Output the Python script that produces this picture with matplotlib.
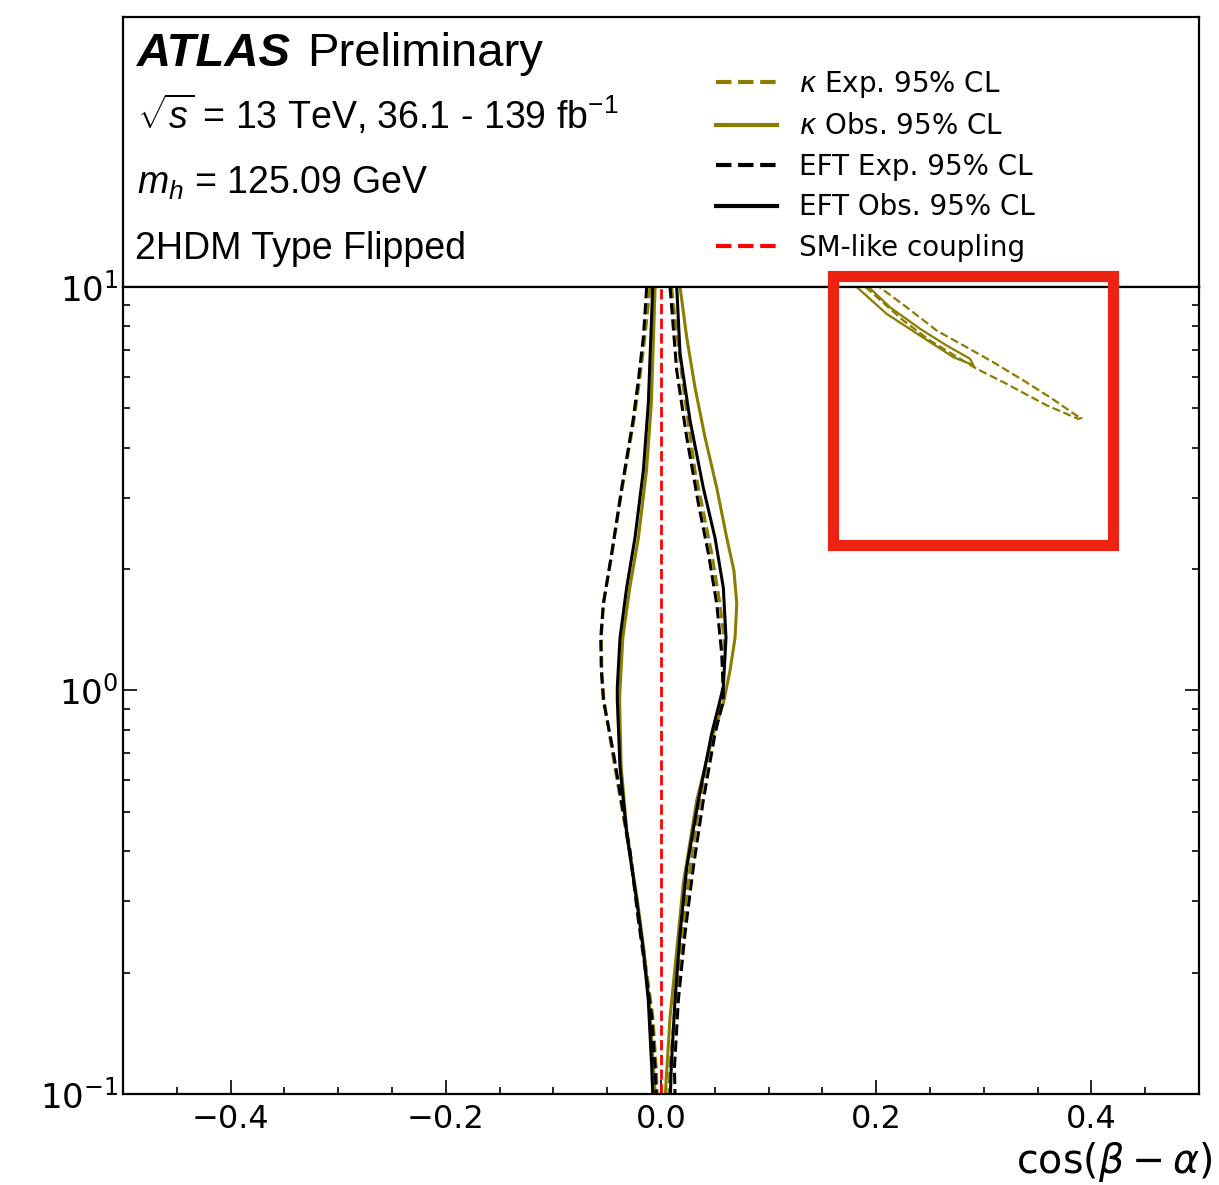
import matplotlib
matplotlib.use('Agg')
import matplotlib.pyplot as plt
from matplotlib.patches import Rectangle

plt.rcParams['mathtext.fontset'] = 'custom'
plt.rcParams['mathtext.rm'] = 'Liberation Sans'
plt.rcParams['mathtext.it'] = 'Liberation Sans:italic'
plt.rcParams['mathtext.bf'] = 'Liberation Sans:bold'

OLIVE = '#8b7d00'

# --- contour branches (cos(beta-alpha), tan(beta)) ---
eft_exp_left_x = [-0.0133, -0.0164, -0.0211, -0.026, -0.0365, -0.0458, -0.0536, -0.056,
                  -0.0555, -0.0535, -0.0446, -0.0353, -0.0288, -0.0214, -0.0149, -0.0086, -0.0055, -0.0045]
eft_exp_left_y = [10, 7.5, 5.86, 4.67, 3.18, 2.19, 1.64, 1.35, 1.12, 0.945, 0.71, 0.504, 0.401,
                  0.274, 0.206, 0.155, 0.1163, 0.1]
eft_exp_right_x = [0.0084, 0.0146, 0.0239, 0.0347, 0.044, 0.0518, 0.0564, 0.0579, 0.0579, 0.0502,
                   0.0393, 0.030, 0.0223, 0.0161, 0.0125, 0.013]
eft_exp_right_y = [10, 6.21, 4.24, 2.91, 2.19, 1.64, 1.235, 1.0, 0.945, 0.782, 0.534, 0.364,
                   0.250, 0.1705, 0.1163, 0.1]

eft_obs_left_x = [-0.0077, -0.0118, -0.0164, -0.0242, -0.0319, -0.0381, -0.0406, -0.0406, -0.0381,
                  -0.0319, -0.0226, -0.0164, -0.0118, -0.0086, -0.0077]
eft_obs_left_y = [10, 5.14, 3.51, 2.39, 1.80, 1.35, 1.02, 0.945, 0.645, 0.442, 0.302, 0.227,
                  0.1705, 0.1163, 0.1]
eft_obs_right_x = [0.0146, 0.0177, 0.027, 0.0393, 0.0502, 0.0579, 0.0604, 0.0579, 0.0548, 0.0471,
                   0.0347, 0.0239, 0.0177, 0.013, 0.0095, 0.0088]
eft_obs_right_y = [10, 6.84, 4.67, 3.18, 2.39, 1.80, 1.35, 1.02, 0.945, 0.782, 0.534, 0.364,
                   0.250, 0.1705, 0.1163, 0.1]

kap_exp_left_x = [-0.0102, -0.0150, -0.0200, -0.0252, -0.036, -0.0455, -0.0535, -0.0555, -0.055,
                  -0.053, -0.0455, -0.036, -0.0295, -0.0205, -0.014, -0.0075, -0.0045, -0.0035]
kap_exp_left_y = eft_exp_left_y
kap_exp_right_x = [0.0099, 0.0114, 0.0207, 0.0316, 0.0471, 0.0548, 0.0586, 0.0579, 0.0564, 0.0474,
                   0.0362, 0.027, 0.0195, 0.0135, 0.0084, 0.0074]
kap_exp_right_y = [10, 9.10, 5.64, 3.51, 2.19, 1.64, 1.35, 1.12, 0.929, 0.782, 0.534, 0.364,
                   0.25, 0.1705, 0.1163, 0.1]

kap_obs_left_x = [-0.0055, -0.009, -0.0135, -0.021, -0.029, -0.0355, -0.038, -0.0385, -0.037,
                  -0.0315, -0.022, -0.0158, -0.011, -0.007, -0.0055]
kap_obs_left_y = eft_obs_left_y
kap_obs_right_x = [0.0177, 0.0239, 0.0316, 0.0409, 0.0518, 0.0611, 0.0678, 0.0704, 0.0688, 0.0641,
                   0.0579, 0.0486, 0.0332, 0.0207, 0.0146, 0.0084, 0.0046, 0.0042]
kap_obs_right_y = [10, 7.50, 5.64, 4.24, 3.18, 2.39, 1.98, 1.64, 1.35, 1.12, 0.929, 0.782, 0.534,
                   0.332, 0.227, 0.155, 0.106, 0.1]

# second (wrong-sign) kappa islands at large cos(beta-alpha)
kap_obs_isl_x = [0.1819, 0.2097, 0.2407, 0.2717, 0.2872, 0.2909, 0.2872, 0.2655, 0.2407, 0.2128, 0.193]
kap_obs_isl_y = [10, 8.58, 7.58, 6.70, 6.45, 6.35, 6.64, 7.16, 7.88, 8.91, 10]
kap_exp_isl_x = [0.190, 0.2252, 0.250, 0.2779, 0.2934, 0.3181, 0.3585, 0.3878, 0.391, 0.3863,
                 0.3615, 0.3367, 0.3088, 0.2841, 0.2562, 0.2283, 0.203]
kap_exp_isl_y = [10, 8.26, 7.37, 6.64, 6.27, 5.81, 5.09, 4.71, 4.74, 4.80, 5.33, 5.87, 6.51,
                 7.09, 7.80, 8.91, 10]

sm_x = [0.0, 0.0]
sm_y = [0.1, 10]

# highlight box (data coords)
box_x = (0.1597, 0.4204)
box_y = (2.29, 10.62)

fig = plt.figure(figsize=(12.19, 11.85), dpi=100)
top = fig.add_axes([0.1009, 0.7578, 0.8827, 0.2279])
ax = fig.add_axes([0.1009, 0.0768, 0.8827, 0.6810])

lw = 2.2
ax.plot(kap_exp_left_x, kap_exp_left_y, color=OLIVE, ls='--', lw=lw, label=r'$\kappa$ Exp. 95% CL')
ax.plot(kap_exp_right_x, kap_exp_right_y, color=OLIVE, ls='--', lw=lw)
ax.plot(kap_obs_left_x, kap_obs_left_y, color=OLIVE, ls='-', lw=lw, label=r'$\kappa$ Obs. 95% CL')
ax.plot(kap_obs_right_x, kap_obs_right_y, color=OLIVE, ls='-', lw=lw)
ax.plot(eft_exp_left_x, eft_exp_left_y, color='black', ls='--', lw=lw, label='EFT Exp. 95% CL')
ax.plot(eft_exp_right_x, eft_exp_right_y, color='black', ls='--', lw=lw)
ax.plot(eft_obs_left_x, eft_obs_left_y, color='black', ls='-', lw=lw, label='EFT Obs. 95% CL')
ax.plot(eft_obs_right_x, eft_obs_right_y, color='black', ls='-', lw=lw)
ax.plot(kap_exp_isl_x, kap_exp_isl_y, color=OLIVE, ls='--', lw=1.6)
ax.plot(kap_obs_isl_x, kap_obs_isl_y, color=OLIVE, ls='-', lw=1.6)
ax.plot(sm_x, sm_y, color='red', ls='--', lw=2, label='SM-like coupling')

ax.set_yscale('log')
ax.set_xlim(-0.5, 0.5)
ax.set_ylim(0.1, 10)
ax.set_xticks([-0.4, -0.2, 0.0, 0.2, 0.4])
ax.set_xticks([i * 0.05 - 0.5 for i in range(21)], minor=True)
ax.tick_params(which='both', direction='in', top=False, right=True, width=1.2)
ax.tick_params(axis='x', labelsize=23, pad=7)
ax.tick_params(axis='y', labelsize=24.5)
ax.tick_params(which='major', length=10)
ax.tick_params(which='minor', length=5)
for s in ax.spines.values():
    s.set_linewidth(1.6)
ax.set_xlabel(r'$\cos(\beta-\alpha)$', fontsize=28.5, math_fontfamily='dejavusans')
ax.xaxis.set_label_coords(1.012, -0.057)
ax.xaxis.label.set_horizontalalignment('right')

ax.add_patch(Rectangle((box_x[0], box_y[0]), box_x[1] - box_x[0], box_y[1] - box_y[0],
                       fill=False, ec='#ee2212', lw=8, clip_on=False, zorder=10))

# upper panel with labels and legend
top.set_xticks([])
top.set_yticks([])
for s in top.spines.values():
    s.set_linewidth(1.6)
tf = 'Liberation Sans'
top.text(0.013, 0.82, 'ATLAS', transform=top.transAxes, fontsize=34, family=tf,
         weight='bold', style='italic', va='baseline')
top.text(0.171, 0.82, 'Preliminary', transform=top.transAxes, fontsize=34, family=tf, va='baseline')
top.text(0.013, 0.585, r'$\sqrt{s}$ = 13 TeV, 36.1 - 139 fb$^{-1}$', transform=top.transAxes,
         fontsize=27, family=tf, va='baseline')
top.text(0.013, 0.345, r'$m_h$ = 125.09 GeV', transform=top.transAxes, fontsize=27, family=tf,
         va='baseline')
top.text(0.011, 0.105, '2HDM Type Flipped', transform=top.transAxes, fontsize=27, family=tf,
         va='baseline')

handles, labels = ax.get_legend_handles_labels()
leg = top.legend(handles, labels, loc='upper left', bbox_to_anchor=(0.551, 0.808), frameon=False,
                 fontsize=20, handlelength=2.2, handletextpad=0.8, labelspacing=0.45,
                 borderpad=0, borderaxespad=0)
for t in leg.get_texts():
    t.set_math_fontfamily('dejavusans')
for h in leg.legend_handles:
    h.set_linewidth(3)

fig.savefig('out.png', dpi=100)
